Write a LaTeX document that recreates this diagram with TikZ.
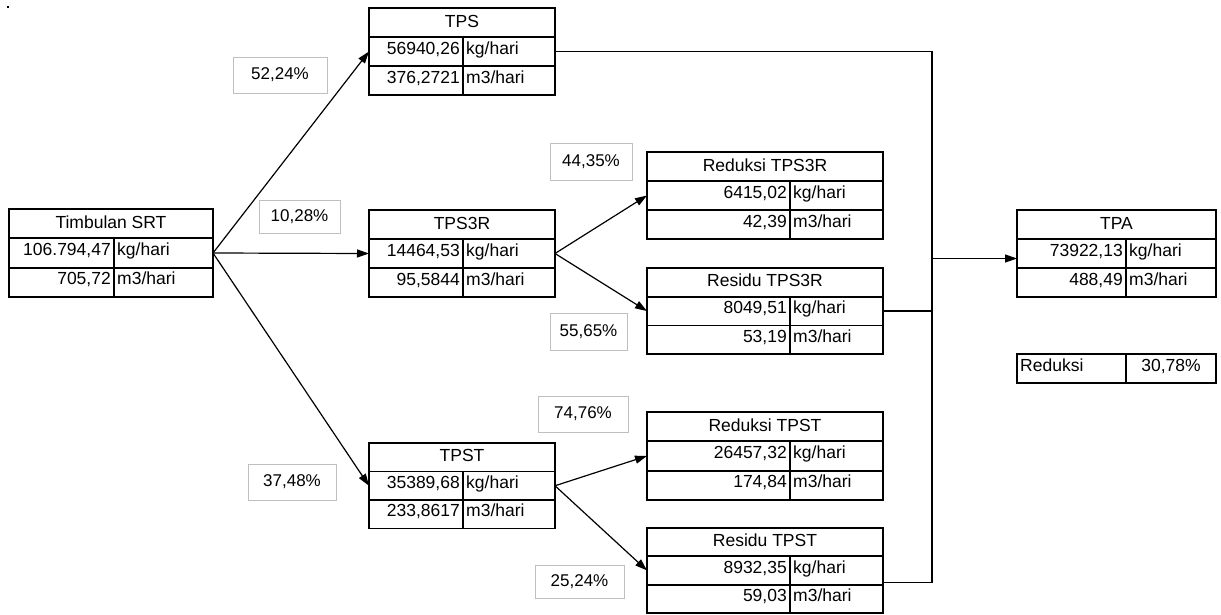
\documentclass[tikz,border=0pt]{standalone}
\usepackage{fontspec}
\setmainfont{Liberation Sans}
\usetikzlibrary{arrows.meta,calc}
\newcommand\tbl[9]{%
  \pgfmathsetmacro\tw{#4-#2}%
  \pgfmathsetmacro\tcx{(#2+#4)/2}%
  \node[cell, minimum width=\tw pt, minimum height=#6pt, anchor=north] (#1-t) at (\tcx,#5) {#7};
  \node[cell, minimum width=\tw pt, minimum height=#6pt, anchor=north] (#1-k) at (#1-t.south) {};
  \node[cell, minimum width=\tw pt, minimum height=#6pt, anchor=north] (#1-m) at (#1-k.south) {};
  \coordinate (#1-d) at (#3,#5);
  \draw[tblline] (#1-k.north -| #1-d) -- (#1-m.south -| #1-d);
  \node[tt, anchor=mid east] at (#1-k.center -| #1-d) {#8};
  \node[tt, anchor=mid west] at (#1-k.center -| #1-d) {kg/hari};
  \node[tt, anchor=mid east] at (#1-m.center -| #1-d) {#9};
  \node[tt, anchor=mid west] at (#1-m.center -| #1-d) {m3/hari};
}
\begin{document}
\begin{tikzpicture}[x=1pt,y=-1pt,
  tblline/.style={line width=1.8pt},
  cell/.style={draw, line width=1.8pt, rectangle, inner sep=0pt, outer sep=0pt,
    font=\fontsize{17.5}{20}\selectfont, text height=12.5pt, text depth=3.5pt},
  tt/.style={font=\fontsize{17.5}{20}\selectfont, inner sep=3pt},
  pct/.style={draw=black!25, line width=1pt, rectangle, inner sep=0pt, outer sep=0pt,
    font=\fontsize{17}{20}\selectfont, anchor=north west},
  conn/.style={line width=1.2pt},
  arr/.style={conn, -{Triangle[length=12pt,width=8pt]}}]
\useasboundingbox (0,0) rectangle (1221,614);
\fill (7,6) rectangle (9,8);
\tbl{T}{9}{114}{213}{209}{29.33}{Timbulan SRT}{106.794,47}{705,72}
\tbl{TPS}{369}{463}{555}{8}{29}{TPS}{56940,26}{376,2721}
\tbl{S3}{369}{463}{555}{210}{29}{TPS3R}{14464,53}{95,5844}
\tbl{ST}{369}{463}{555}{443}{28.5}{TPST}{35389,68}{233,8617}
\tbl{RD3}{647}{790}{883}{152}{29}{Reduksi TPS3R}{6415,02}{42,39}
\tbl{RS3}{647}{790}{883}{268}{28.7}{Residu TPS3R}{8049,51}{53,19}
\tbl{RDT}{647}{790}{883}{412}{29.3}{Reduksi TPST}{26457,32}{174,84}
\tbl{RST}{647}{790}{883}{528}{28.3}{Residu TPST}{8932,35}{59,03}
\tbl{TPA}{1017}{1126}{1216}{210}{29}{TPA}{73922,13}{488,49}
% summary
\node[cell, minimum width=199pt, minimum height=29pt, anchor=north west] (red) at (1017,354) {};
\coordinate (red-d) at (1126,354);
\draw[tblline] (red-d) -- (red.south -| red-d);
\node[tt, anchor=mid west] (redl) at (red.west) {Reduksi};
\node[tt, anchor=mid] (redv) at ($(red.center -| red-d)!0.5!(red.east)$) {30,78\%};
% percentages
\node[pct, minimum width=94pt, minimum height=36pt] (p1) at (233,57) {52,24\%};
\node[pct, minimum width=81pt, minimum height=33pt] (p2) at (259,200) {10,28\%};
\node[pct, minimum width=88pt, minimum height=36pt] (p3) at (248,464) {37,48\%};
\node[pct, minimum width=82pt, minimum height=37pt] (p4) at (550,143) {44,35\%};
\node[pct, minimum width=77pt, minimum height=37pt] (p5) at (550,313) {55,65\%};
\node[pct, minimum width=90pt, minimum height=36pt] (p6) at (538,396) {74,76\%};
\node[pct, minimum width=89pt, minimum height=33pt] (p7) at (535,565) {25,24\%};
% connectors
\draw[arr] (T-k.east) -- (TPS-k.west);
\draw[arr] (T-k.east) -- (S3-k.west);
\draw[arr] (T-k.east) -- (ST-k.west);
\draw[arr] (S3-k.east) -- (RD3-k.west);
\draw[arr] (S3-k.east) -- (RS3-k.west);
\draw[arr] (ST-k.east) -- (RDT-k.west);
\draw[arr] (ST-k.east) -- (RST-k.west);
\coordinate (bus) at (932,0);
\coordinate (rstout) at ([yshift=2pt]RST-k.south east);
\draw[conn] (TPS-k.east) -| (rstout -| bus) -- (rstout);
\draw[conn] (RS3-k.east) -- (RS3-k.east -| bus);
\coordinate (tpain) at ([yshift=-5pt]TPA-k.west);
\draw[arr] (tpain -| bus) -- (tpain);
\end{tikzpicture}
\end{document}
